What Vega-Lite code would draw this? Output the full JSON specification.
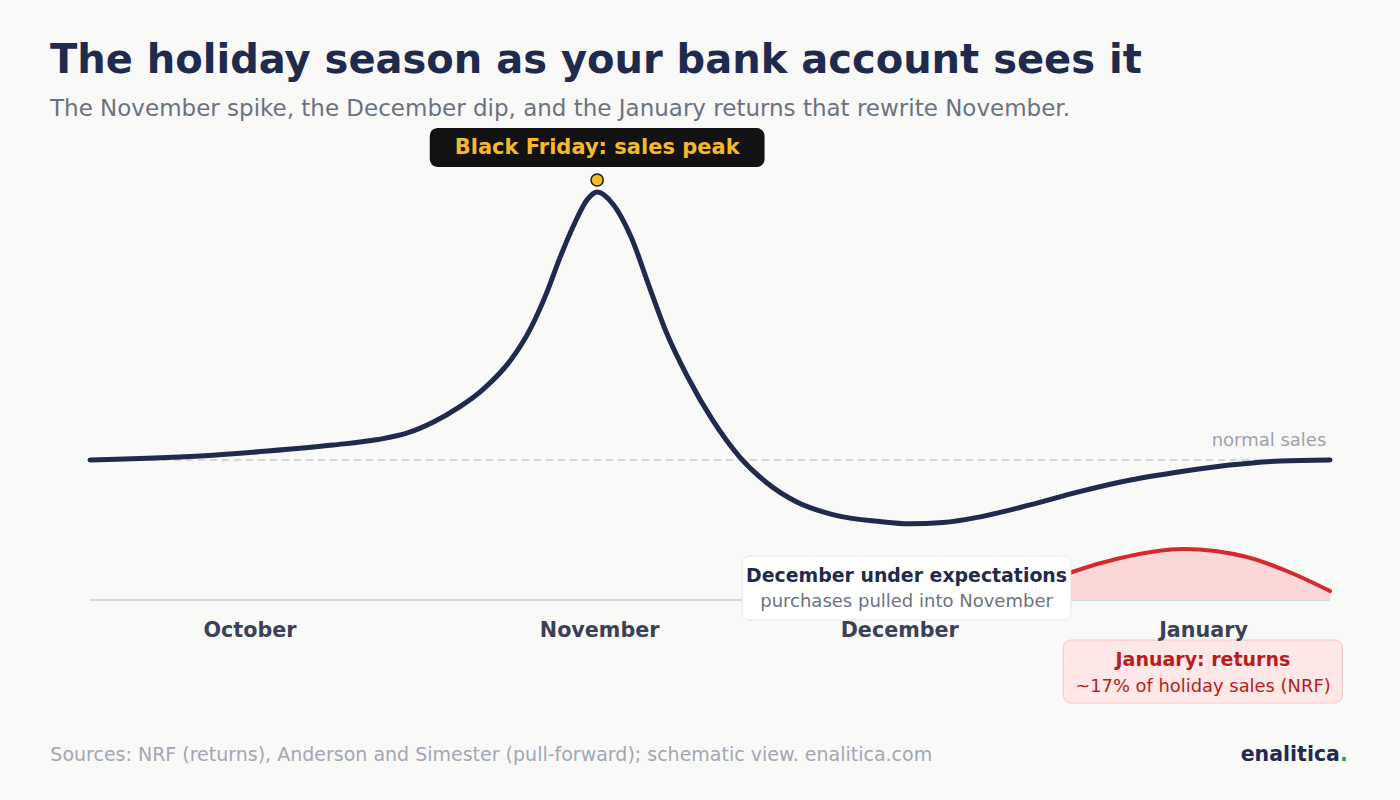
{
  "$schema": "https://vega.github.io/schema/vega-lite/v6.json",
  "autosize": {"type": "fit", "contains": "padding"},
  "width": 1400,
  "height": 800,
  "padding": {"left": 0, "right": 0, "top": 41, "bottom": 0},
  "background": "#f9f9f7",
  "config": {
    "view": {"stroke": null},
    "font": "DejaVu Sans",
    "text": {"font": "DejaVu Sans"}
  },
  "title": {
    "text": "The holiday season as your bank account sees it",
    "subtitle": "The November spike, the December dip, and the January returns that rewrite November.",
    "anchor": "start",
    "frame": "group",
    "dx": 50,
    "offset": 0,
    "font": "DejaVu Sans",
    "fontSize": 40,
    "fontWeight": "bold",
    "color": "#1f2a4d",
    "subtitleFont": "DejaVu Sans",
    "subtitleFontSize": 23,
    "subtitleColor": "#6b7280",
    "subtitlePadding": 17
  },
  "datasets": {
    "sales": [
      {"t": 0, "v": 100},
      {"t": 8.9, "v": 102.9},
      {"t": 14.3, "v": 106.4},
      {"t": 19.6, "v": 110.7},
      {"t": 23.2, "v": 114.6},
      {"t": 25.6, "v": 119.3},
      {"t": 27.7, "v": 127.1},
      {"t": 29.8, "v": 137.9},
      {"t": 31.7, "v": 150.5},
      {"t": 33.9, "v": 171},
      {"t": 35.5, "v": 193.5},
      {"t": 36.9, "v": 221},
      {"t": 37.9, "v": 244.5},
      {"t": 39, "v": 267.5},
      {"t": 40.1, "v": 286},
      {"t": 40.9, "v": 291.4},
      {"t": 42.2, "v": 282.5},
      {"t": 43.6, "v": 260},
      {"t": 45.2, "v": 221.4},
      {"t": 46.5, "v": 190.7},
      {"t": 48.2, "v": 159.3},
      {"t": 50.2, "v": 128.6},
      {"t": 52.4, "v": 102.1},
      {"t": 54.6, "v": 83.6},
      {"t": 57, "v": 70},
      {"t": 59.9, "v": 61},
      {"t": 63.7, "v": 56},
      {"t": 66.1, "v": 54.4},
      {"t": 68.8, "v": 55.3},
      {"t": 71.8, "v": 59.4},
      {"t": 75.8, "v": 67.9},
      {"t": 79.8, "v": 77.4},
      {"t": 83.9, "v": 85.7},
      {"t": 87.9, "v": 91.6},
      {"t": 91.9, "v": 96.4},
      {"t": 96, "v": 99.3},
      {"t": 100, "v": 100}
    ],
    "returns": [
      {"t": 74, "v": 0},
      {"t": 76.6, "v": 10.7},
      {"t": 79.2, "v": 20},
      {"t": 83.1, "v": 30},
      {"t": 88.2, "v": 36.4},
      {"t": 93.3, "v": 30.7},
      {"t": 96.7, "v": 20},
      {"t": 100, "v": 6.4}
    ],
    "months": [
      {"month": "October", "t": 12.9},
      {"month": "November", "t": 41.1},
      {"month": "December", "t": 65.3},
      {"month": "January", "t": 89.8}
    ],
    "one": [{}]
  },
  "encoding": {
    "x": {"type": "quantitative", "scale": {"domain": [-7.258, 105.645], "nice": false, "zero": false}, "axis": null},
    "y": {"type": "quantitative", "scale": {"domain": [-142.857, 342.143], "nice": false, "zero": false}, "axis": null}
  },
  "layer": [
    {
      "data": {"name": "one"},
      "mark": {"type": "rule", "stroke": "#c6c9d1", "strokeWidth": 1.5, "strokeDash": [7, 5]},
      "encoding": {"x": {"datum": 0}, "x2": {"datum": 100}, "y": {"datum": 100}}
    },
    {
      "data": {"name": "one"},
      "mark": {"type": "rule", "stroke": "#d4d7e0", "strokeWidth": 2},
      "encoding": {"x": {"datum": 0}, "x2": {"datum": 100}, "y": {"datum": 0}}
    },
    {
      "data": {"name": "returns"},
      "mark": {"type": "area", "interpolate": "monotone", "fill": "#fbd7d7"},
      "encoding": {"x": {"field": "t"}, "y": {"field": "v"}, "y2": {"datum": 0}}
    },
    {
      "data": {"name": "returns"},
      "mark": {"type": "line", "interpolate": "monotone", "stroke": "#d7282b", "strokeWidth": 4, "strokeCap": "round"},
      "encoding": {"x": {"field": "t"}, "y": {"field": "v"}}
    },
    {
      "data": {"name": "sales"},
      "mark": {"type": "line", "interpolate": "monotone", "stroke": "#1f2a4d", "strokeWidth": 5, "strokeCap": "round"},
      "encoding": {"x": {"field": "t"}, "y": {"field": "v"}}
    },
    {
      "data": {"name": "one"},
      "mark": {"type": "text", "text": "normal sales", "align": "right", "baseline": "alphabetic", "fontSize": 18, "color": "#9ca3af"},
      "encoding": {"x": {"datum": 99.7}, "y": {"datum": 110}}
    },
    {
      "data": {"name": "one"},
      "mark": {"type": "rect", "fill": "#ffffff", "stroke": "#e5e7eb", "strokeWidth": 1, "cornerRadius": 8},
      "encoding": {"x": {"datum": 52.6}, "x2": {"datum": 79.1}, "y": {"datum": 31.4}, "y2": {"datum": -14.3}}
    },
    {
      "data": {"name": "one"},
      "mark": {"type": "text", "text": "December under expectations", "align": "center", "baseline": "middle", "fontSize": 18.9, "fontWeight": "bold", "color": "#1f2a4d"},
      "encoding": {"x": {"datum": 65.85}, "y": {"datum": 17.1}}
    },
    {
      "data": {"name": "one"},
      "mark": {"type": "text", "text": "purchases pulled into November", "align": "center", "baseline": "middle", "fontSize": 18, "color": "#6b7280"},
      "encoding": {"x": {"datum": 65.85}, "y": {"datum": -1.4}}
    },
    {
      "data": {"name": "one"},
      "mark": {"type": "rect", "fill": "#fde7e7", "stroke": "#f6c6c6", "strokeWidth": 1, "cornerRadius": 8},
      "encoding": {"x": {"datum": 78.5}, "x2": {"datum": 101}, "y": {"datum": -28.6}, "y2": {"datum": -73.6}}
    },
    {
      "data": {"name": "one"},
      "mark": {"type": "text", "text": "January: returns", "align": "center", "baseline": "middle", "fontSize": 19, "fontWeight": "bold", "color": "#b91c1c"},
      "encoding": {"x": {"datum": 89.75}, "y": {"datum": -42.9}}
    },
    {
      "data": {"name": "one"},
      "mark": {"type": "text", "text": "~17% of holiday sales (NRF)", "align": "center", "baseline": "middle", "fontSize": 17.9, "color": "#b91c1c"},
      "encoding": {"x": {"datum": 89.75}, "y": {"datum": -62.1}}
    },
    {
      "data": {"name": "months"},
      "mark": {"type": "text", "align": "center", "baseline": "middle", "fontSize": 20.7, "fontWeight": "bold", "color": "#3b3f58"},
      "encoding": {"x": {"field": "t"}, "y": {"datum": -22.1}, "text": {"field": "month"}}
    },
    {
      "data": {"name": "one"},
      "mark": {"type": "rect", "fill": "#121212", "cornerRadius": 8},
      "encoding": {"x": {"datum": 27.4}, "x2": {"datum": 54.4}, "y": {"datum": 337.1}, "y2": {"datum": 309.3}}
    },
    {
      "data": {"name": "one"},
      "mark": {"type": "text", "text": "Black Friday: sales peak", "align": "center", "baseline": "middle", "fontSize": 21, "fontWeight": "bold", "color": "#f4b92e"},
      "encoding": {"x": {"datum": 40.9}, "y": {"datum": 322.9}}
    },
    {
      "data": {"name": "one"},
      "mark": {"type": "point", "filled": true, "fill": "#f6b928", "stroke": "#1a1a1a", "strokeWidth": 1.5, "size": 150, "opacity": 1},
      "encoding": {"x": {"datum": 40.9}, "y": {"datum": 300}}
    },
    {
      "data": {"name": "one"},
      "mark": {"type": "text", "text": "Sources: NRF (returns), Anderson and Simester (pull-forward); schematic view. enalitica.com", "align": "left", "baseline": "middle", "fontSize": 19, "color": "#a3a7b3"},
      "encoding": {"x": {"datum": -3.2}, "y": {"datum": -110.7}}
    },
    {
      "data": {"name": "one"},
      "mark": {"type": "text", "text": "enalitica", "align": "right", "baseline": "middle", "fontSize": 20.5, "fontWeight": "bold", "color": "#1f2a4d"},
      "encoding": {"x": {"datum": 100.8}, "y": {"datum": -110.7}}
    },
    {
      "data": {"name": "one"},
      "mark": {"type": "text", "text": ".", "align": "left", "baseline": "middle", "fontSize": 20.5, "fontWeight": "bold", "color": "#3a9a4a"},
      "encoding": {"x": {"datum": 100.8}, "y": {"datum": -110.7}}
    }
  ]
}
